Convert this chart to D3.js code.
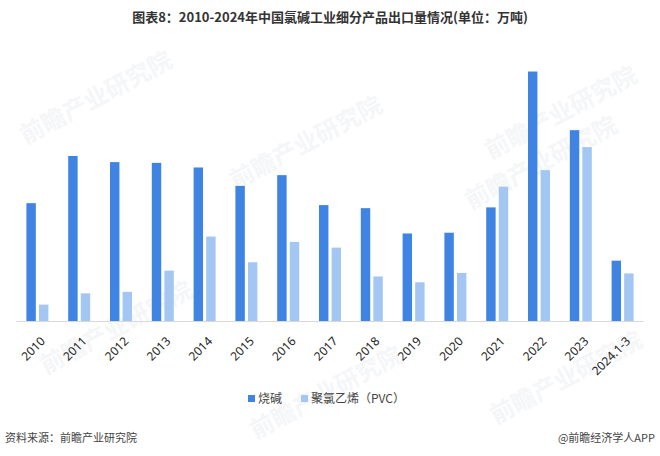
<!DOCTYPE html>
<html>
<head>
<meta charset="utf-8">
<script src="https://cdn.jsdelivr.net/npm/d3@7"></script>
<style>
  body { margin: 0; background: #fff; }
  text { font-family: "Noto Sans CJK SC", "Microsoft YaHei", sans-serif; }
</style>
</head>
<body>
<div id="chart"></div>
<script>

// chart data (万吨)
var years = ["2010", "2011", "2012", "2013", "2014", "2015", "2016", "2017",
             "2018", "2019", "2020", "2021", "2022", "2023", "2024.1-3"];
var causticSoda = [153.5, 215, 207, 206, 200, 176, 190, 151, 147, 114, 115, 148, 325, 248.6, 78.6];
var pvc = [21.3, 36, 38, 65.6, 110, 76.5, 103, 95.6, 58, 50.4, 62.6, 175, 196.5, 226.5, 62];
var seriesNames = ["烧碱", "聚氯乙烯（PVC）"];
var seriesColors = ["#3f84e3", "#a3c6f3"];

var W = 660, H = 456;

var svg = d3.select("#chart")
  .append("svg")
    .attr("width", W)
    .attr("height", H);

// faint watermarks
var marks = [[100, 105], [310, 150], [565, 120], [120, 335], [330, 400], [570, 385], [545, 170]];
svg.selectAll("text.wm")
  .data(marks)
  .enter()
  .append("text")
    .attr("class", "wm")
    .attr("transform", function(d) { return "translate(" + d[0] + "," + d[1] + ") rotate(-28)"; })
    .attr("text-anchor", "middle")
    .style("font-size", "24px")
    .style("font-weight", "bold")
    .style("fill", "#f5f6f8")
    .text("前瞻产业研究院");

// title
svg.append("text")
  .attr("x", W/2)
  .attr("y", 22)
  .attr("text-anchor", "middle")
  .style("font-size", "13px")
  .style("font-weight", "bold")
  .style("fill", "#333")
  .text("图表8：2010-2024年中国氯碱工业细分产品出口量情况(单位：万吨)");

var plot = {left: 16, right: 643, top: 60, bottom: 321};

var x = d3.scaleBand()
  .domain(years)
  .range([plot.left, plot.right]);

var inner = d3.scaleBand()
  .domain([0, 1])
  .range([-11, 11])
  .paddingInner(0.25);

var y = d3.scaleLinear()
  .domain([0, 340])
  .range([plot.bottom, plot.top]);

var table = years.map(function(yr, i) {
  return {year: yr, values: [causticSoda[i], pvc[i]]};
});

var groups = svg.selectAll("g.cat")
  .data(table)
  .enter()
  .append("g")
    .attr("class", "cat")
    .attr("transform", function(d) { return "translate(" + (x(d.year) + x.bandwidth()/2 + 0.5) + ",0)"; });

groups.selectAll("rect")
  .data(function(d) { return d.values; })
  .enter()
  .append("rect")
    .attr("x", function(d, i) { return inner(i); })
    .attr("width", inner.bandwidth())
    .attr("y", function(d) { return y(d); })
    .attr("height", function(d) { return y(0) - y(d); })
    .style("fill", function(d, i) { return seriesColors[i]; });

// x axis
var xAxis = d3.axisBottom(x).tickSize(0).tickPadding(0);
var gx = svg.append("g")
  .attr("transform", "translate(0," + plot.bottom + ")")
  .call(xAxis);
gx.select(".domain").attr("stroke", "#d9d9d9");
gx.selectAll("text")
  .style("font-size", "12px")
  .style("fill", "#222")
  .style("font-family", "'Noto Sans', sans-serif")
  .style("text-anchor", "end")
  .attr("y", 0)
  .attr("dy", "0.35em")
  .attr("transform", "translate(6,18) rotate(-45)");

// legend
var legend = svg.append("g").attr("transform", "translate(248,398)");
var legX = [0, 53];
legend.selectAll("rect")
  .data(seriesNames)
  .enter()
  .append("rect")
    .attr("x", function(d, i) { return legX[i]; })
    .attr("y", -3)
    .attr("width", 7)
    .attr("height", 7)
    .style("fill", function(d, i) { return seriesColors[i]; });
legend.selectAll("text.leg")
  .data(seriesNames)
  .enter()
  .append("text")
    .attr("class", "leg")
    .attr("x", function(d, i) { return legX[i] + 10; })
    .attr("y", 1)
    .attr("dy", "0.35em")
    .style("font-size", "12px")
    .style("fill", "#444")
    .text(function(d) { return d; });

// footer
svg.append("text")
  .attr("x", 5)
  .attr("y", 442)
  .style("font-size", "11px")
  .style("fill", "#444")
  .text("资料来源：前瞻产业研究院");
svg.append("text")
  .attr("x", 655)
  .attr("y", 442)
  .attr("text-anchor", "end")
  .style("font-size", "11px")
  .style("fill", "#444")
  .text("@前瞻经济学人APP");

</script>
</body>
</html>
